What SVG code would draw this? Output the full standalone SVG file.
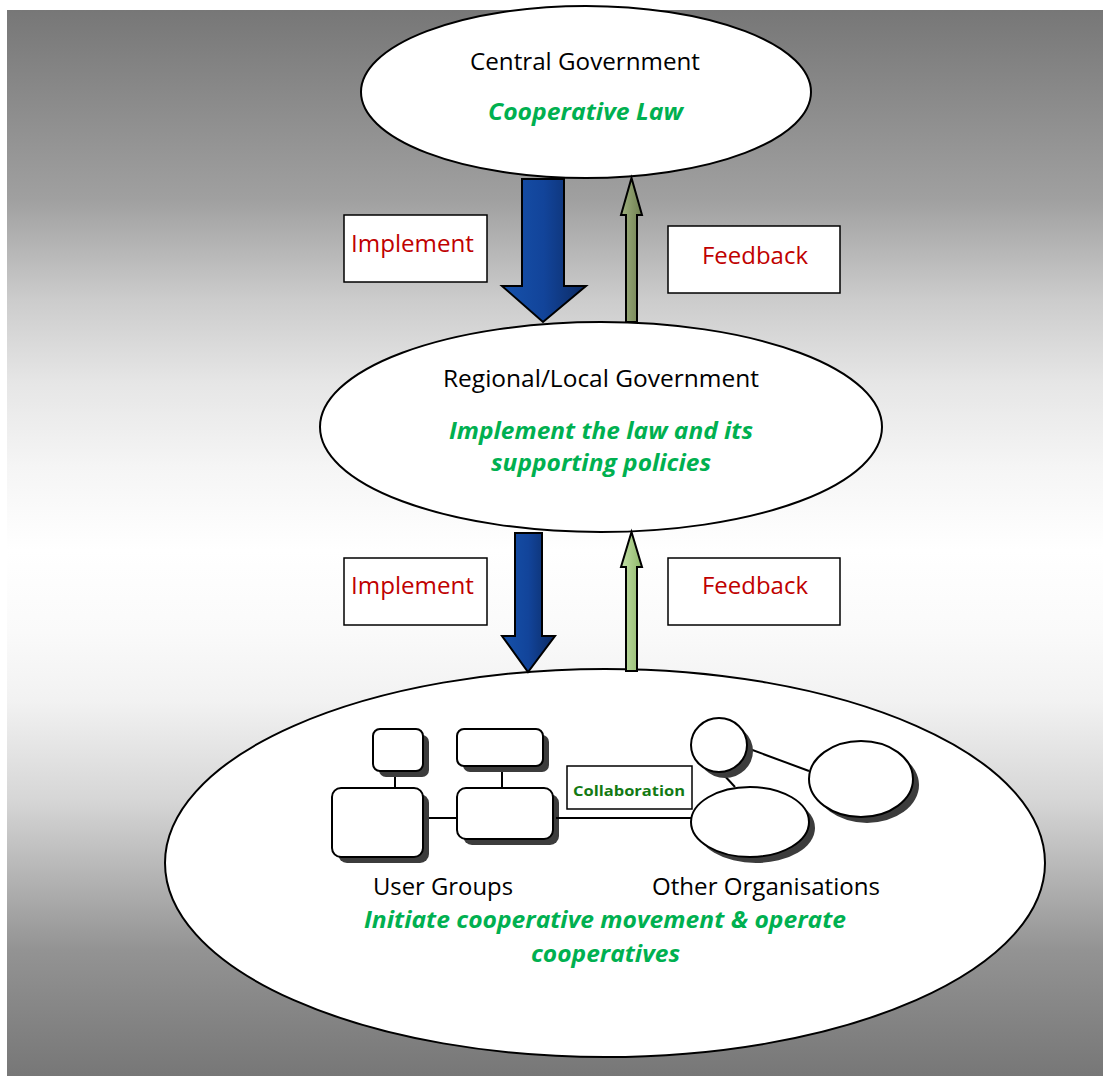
<svg xmlns="http://www.w3.org/2000/svg" width="1103" height="1079" viewBox="0 0 1103 1079">
  <defs>
    <linearGradient id="bg" gradientUnits="userSpaceOnUse" x1="0" y1="10" x2="0" y2="1076">
      <stop offset="0" stop-color="#777777"/>
      <stop offset="0.178" stop-color="#a0a0a0"/>
      <stop offset="0.272" stop-color="#cccccc"/>
      <stop offset="0.350" stop-color="#e6e6e6"/>
      <stop offset="0.429" stop-color="#f5f5f5"/>
      <stop offset="0.507" stop-color="#ffffff"/>
      <stop offset="0.584" stop-color="#fafafa"/>
      <stop offset="0.647" stop-color="#f2f2f2"/>
      <stop offset="0.741" stop-color="#d6d6d6"/>
      <stop offset="0.882" stop-color="#939393"/>
      <stop offset="1" stop-color="#777777"/>
    </linearGradient>
    <linearGradient id="blue" x1="0" y1="0" x2="1" y2="0">
      <stop offset="0" stop-color="#1652ab"/>
      <stop offset="0.5" stop-color="#12449a"/>
      <stop offset="1" stop-color="#0c2a62"/>
    </linearGradient>
    <linearGradient id="olive" x1="0" y1="0" x2="1" y2="0">
      <stop offset="0" stop-color="#a0b080"/>
      <stop offset="1" stop-color="#6f8050"/>
    </linearGradient>
    <linearGradient id="lime" x1="0" y1="0" x2="1" y2="0">
      <stop offset="0" stop-color="#c4e0a8"/>
      <stop offset="1" stop-color="#8fb86a"/>
    </linearGradient>
    <style>
      .node { fill: #ffffff; stroke: #000000; stroke-width: 2; }
      .label { fill: #ffffff; stroke: #000000; stroke-width: 1.5; }
      .arrow { stroke: #000000; stroke-width: 2; stroke-linejoin: miter; }
      .shadow { fill: #3c3c3c; }
      .link { stroke: #000000; stroke-width: 2; fill: none; }
      text { font-family: "Open Sans", "Liberation Sans", sans-serif; text-anchor: middle; }
      .title { font-size: 23px; fill: #000000; }
      .role { font-size: 23px; font-weight: bold; font-style: italic; fill: #00b050; }
      .verb { font-size: 23px; fill: #c00000; }
      .collab { font-size: 15px; font-weight: bold; fill: #137a13; }
    </style>
  </defs>

  <!-- backdrop -->
  <rect x="7" y="10" width="1096" height="1066" fill="url(#bg)"/>

  <!-- central government -->
  <g id="central">
    <ellipse class="node" cx="586" cy="92" rx="225" ry="86"/>
    <text class="title" x="585" y="70" textLength="230" lengthAdjust="spacingAndGlyphs">Central Government</text>
    <text class="role" x="585.5" y="120" textLength="195" lengthAdjust="spacingAndGlyphs">Cooperative Law</text>
  </g>

  <!-- regional / local government -->
  <g id="regional">
    <ellipse class="node" cx="601" cy="427" rx="281" ry="105"/>
    <text class="title" x="601" y="387" textLength="316" lengthAdjust="spacingAndGlyphs">Regional/Local Government</text>
    <text class="role" x="601" y="439" textLength="304" lengthAdjust="spacingAndGlyphs">Implement the law and its</text>
    <text class="role" x="601" y="471" textLength="220" lengthAdjust="spacingAndGlyphs">supporting policies</text>
  </g>

  <!-- grassroots level -->
  <g id="grassroots">
    <ellipse class="node" cx="605" cy="863" rx="440" ry="194"/>
    <text class="title" x="443" y="895" textLength="140" lengthAdjust="spacingAndGlyphs">User Groups</text>
    <text class="title" x="766" y="895" textLength="228" lengthAdjust="spacingAndGlyphs">Other Organisations</text>
    <text class="role" x="605" y="928" textLength="482" lengthAdjust="spacingAndGlyphs">Initiate cooperative movement &amp; operate</text>
    <text class="role" x="605.5" y="962" textLength="149" lengthAdjust="spacingAndGlyphs">cooperatives</text>
  </g>

  <!-- user group cluster -->
  <g id="user-groups">
    <line class="link" x1="395" y1="771" x2="395" y2="788"/>
    <line class="link" x1="502" y1="766" x2="502" y2="788"/>
    <line class="link" x1="423" y1="818" x2="457" y2="818"/>
    <rect class="shadow" x="379" y="735" width="50" height="42" rx="7"/>
    <rect class="node" x="373" y="729" width="50" height="42" rx="7"/>
    <rect class="shadow" x="463" y="735" width="86" height="37" rx="7"/>
    <rect class="node" x="457" y="729" width="86" height="37" rx="7"/>
    <rect class="shadow" x="338" y="794" width="91" height="69" rx="9"/>
    <rect class="node" x="332" y="788" width="91" height="69" rx="9"/>
    <rect class="shadow" x="463" y="794" width="96" height="51" rx="9"/>
    <rect class="node" x="457" y="788" width="96" height="51" rx="9"/>
  </g>

  <!-- other organisations cluster -->
  <g id="other-organisations">
    <line class="link" x1="747" y1="748" x2="809" y2="771"/>
    <line class="link" x1="722" y1="773" x2="735" y2="787"/>
    <ellipse class="shadow" cx="725" cy="751" rx="28" ry="27"/>
    <ellipse class="node" cx="719" cy="745" rx="28" ry="27"/>
    <ellipse class="shadow" cx="867" cy="785" rx="52" ry="38"/>
    <ellipse class="node" cx="861" cy="779" rx="52" ry="38"/>
    <ellipse class="shadow" cx="756" cy="828" rx="59" ry="35"/>
    <ellipse class="node" cx="750" cy="822" rx="59" ry="35"/>
  </g>

  <!-- collaboration link -->
  <g id="collaboration">
    <line class="link" x1="556" y1="818" x2="691" y2="818"/>
    <rect class="label" x="567" y="766" width="125" height="43"/>
    <text class="collab" x="629" y="796" textLength="112" lengthAdjust="spacingAndGlyphs">Collaboration</text>
  </g>

  <!-- flow arrows between levels -->
  <g id="connectors">
    <polygon class="arrow" fill="url(#blue)" points="522,179 564,179 564,286 586,286 543,322 502,286 522,286"/>
    <polygon class="arrow" fill="url(#olive)" points="626,322 637,322 637,215 642,215 631.5,178 621,215 626,215"/>
    <polygon class="arrow" fill="url(#blue)" points="515,533 542,533 542,636 555,636 528,672 502,636 515,636"/>
    <polygon class="arrow" fill="url(#lime)" points="626,671 637,671 637,567 642,567 631.5,532 621,567 626,567"/>
  </g>

  <!-- arrow labels -->
  <g id="implement-top">
    <rect class="label" x="344" y="215" width="143" height="67"/>
    <text class="verb" x="412.5" y="252" textLength="123" lengthAdjust="spacingAndGlyphs">Implement</text>
  </g>
  <g id="feedback-top">
    <rect class="label" x="668" y="226" width="172" height="67"/>
    <text class="verb" x="755" y="264" textLength="106" lengthAdjust="spacingAndGlyphs">Feedback</text>
  </g>
  <g id="implement-bottom">
    <rect class="label" x="344" y="558" width="143" height="67"/>
    <text class="verb" x="412.5" y="594" textLength="123" lengthAdjust="spacingAndGlyphs">Implement</text>
  </g>
  <g id="feedback-bottom">
    <rect class="label" x="668" y="558" width="172" height="67"/>
    <text class="verb" x="755" y="594" textLength="106" lengthAdjust="spacingAndGlyphs">Feedback</text>
  </g>
</svg>
